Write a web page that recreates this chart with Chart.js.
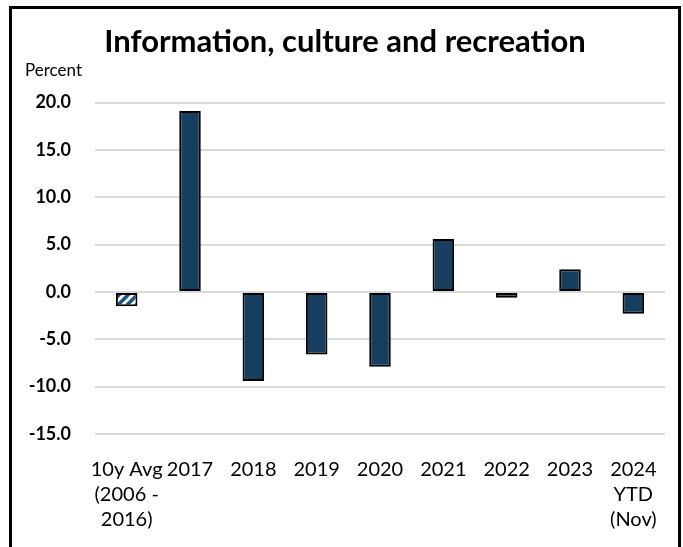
<!DOCTYPE html>
<html>
<head>
<meta charset="utf-8">
<script src="https://cdn.jsdelivr.net/npm/chart.js@4"></script>
<style>
  body { margin: 0; background: #fff; }
  #wrap { position: relative; width: 683px; height: 547px; overflow: hidden; }
  #frame { position: absolute; left: 9px; top: 6px; width: 666px; height: 560px; border: 3px solid #000; pointer-events: none; }
</style>
</head>
<body>
<div id="wrap">
  <canvas id="bar_chart" width="683" height="547"></canvas>
  <div id="frame"></div>
</div>
<script>
// data
const categories = [
    ['10y Avg', '(2006 -', '2016)'],
    '2017', '2018', '2019', '2020', '2021', '2022', '2023',
    ['2024', 'YTD', '(Nov)']
];
const values = [-1.5, 19.1, -9.4, -6.6, -7.9, 5.6, -0.6, 2.4, -2.3];
const yTicks = [-15, -10, -5, 0, 5, 10, 15, 20];

const navy = '#173f5f';

function hatch() {
    var c = document.createElement('canvas');
    c.width = 9; c.height = 9;
    var g = c.getContext('2d');
    g.fillStyle = '#fff';
    g.fillRect(0, 0, 9, 9);
    g.strokeStyle = '#1a5580';
    g.lineWidth = 3.5;
    g.beginPath();
    g.moveTo(-2, 11); g.lineTo(11, -2);
    g.moveTo(-6, 6); g.lineTo(6, -6);
    g.moveTo(3, 15); g.lineTo(15, 3);
    g.stroke();
    return g.createPattern(c, 'repeat');
}

const fills = values.map(function(v, i) { return i === 0 ? hatch() : navy; });

const ctx = document.getElementById('bar_chart').getContext('2d');
const barChart = new Chart(ctx, {
    type: 'bar',
    data: {
        labels: categories,
        datasets: [{
            data: values,
            backgroundColor: fills,
            borderColor: '#000',
            borderWidth: 2,
            borderSkipped: false,
            barPercentage: 0.34,
            categoryPercentage: 1
        }]
    },
    options: {
        responsive: false,
        animation: false,
        layout: { padding: { left: 25, right: 18, top: 23, bottom: 0 } },
        plugins: {
            legend: { display: false },
            tooltip: { enabled: false },
            title: {
                display: true,
                text: 'Information, culture and recreation',
                color: '#000',
                font: { family: 'Lato', size: 31, weight: 'bold', lineHeight: 1.2 },
                padding: { top: 0, bottom: 0 }
            },
            subtitle: {
                display: true,
                text: 'Percent',
                align: 'start',
                color: '#000',
                font: { family: 'Lato', size: 17, lineHeight: 1.2 },
                padding: { top: 0, bottom: 22 }
            }
        },
        scales: {
            x: {
                grid: { display: false },
                border: { display: false },
                ticks: {
                    color: '#000',
                    font: { family: 'Lato', size: 20, lineHeight: 1.25 },
                    maxRotation: 0,
                    autoSkip: false,
                    padding: 15
                }
            },
            y: {
                min: -15,
                max: 20,
                afterBuildTicks: function(axis) {
                    axis.ticks = yTicks.map(function(v) { return { value: v }; });
                },
                afterFit: function(axis) { axis.width = 70; },
                border: { display: false },
                grid: { color: '#d9d9d9', lineWidth: 2, drawTicks: false },
                ticks: {
                    color: '#000',
                    font: { family: 'Lato', size: 18, weight: 'bold' },
                    padding: 24,
                    callback: function(v) { return v.toFixed(1); }
                }
            }
        }
    }
});
</script>
</body>
</html>
